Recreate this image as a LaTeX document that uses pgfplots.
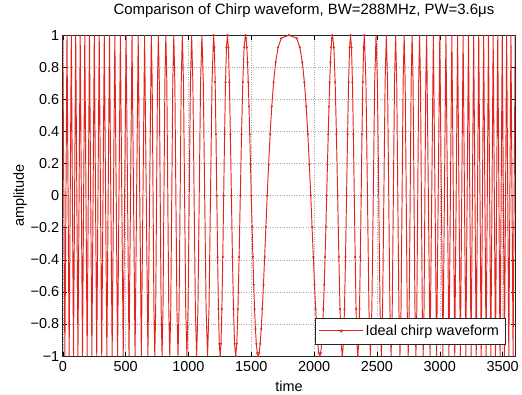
\documentclass[border=0pt]{standalone}
\usepackage{fontspec}
\setmainfont{Liberation Sans}
\usepackage{pgfplots}
\usepackage{pgfplotstable}
\pgfplotsset{compat=1.18}
\definecolor{chirpred}{RGB}{228,36,30}

% offset from pulse centre (time = 1800 -/+ offset), amplitude
\pgfplotstableread{
offset amp
0 1
61.24 0.9808
86.60 0.9239
106.07 0.8315
122.47 0.7071
136.93 0.5556
150.00 0.3827
162.02 0.1951
173.21 0
183.71 -0.1951
193.65 -0.3827
203.10 -0.5556
212.13 -0.7071
220.79 -0.8315
229.13 -0.9239
237.17 -0.9808
244.95 -1
252.49 -0.9808
259.81 -0.9239
266.93 -0.8315
273.86 -0.7071
280.62 -0.5556
287.23 -0.3827
293.68 -0.1951
300.00 0
306.19 0.1951
312.25 0.3827
318.20 0.5556
324.04 0.7071
329.77 0.8315
335.41 0.9239
340.95 0.9808
346.41 1
357.07 0.9239
367.42 0.7071
377.49 0.3827
387.30 0
396.86 -0.3827
406.20 -0.7071
415.33 -0.9239
424.26 -1
433.01 -0.9239
441.59 -0.7071
450.00 -0.3827
458.26 0
466.37 0.3827
474.34 0.7071
482.18 0.9239
489.90 1
497.49 0.9239
504.98 0.7071
512.35 0.3827
519.62 0
526.78 -0.3827
533.85 -0.7071
540.83 -0.9239
547.72 -1
554.52 -0.9239
561.25 -0.7071
567.89 -0.3827
574.46 0
580.95 0.3827
587.37 0.7071
593.71 0.9239
600.00 1
612.37 0.7071
624.50 0
636.40 -0.7071
648.07 -1
659.55 -0.7071
670.82 0
681.91 0.7071
692.82 1
703.56 0.7071
714.14 0
724.57 -0.7071
734.85 -1
744.98 -0.7071
754.98 0
764.85 0.7071
774.60 1
784.22 0.7071
793.73 0
803.12 -0.7071
812.40 -1
821.58 -0.7071
830.66 0
839.64 0.7071
848.53 1
857.32 0.7071
866.03 0
874.64 -0.7071
883.18 -1
891.63 -0.7071
900.00 0
908.30 0.7071
916.52 1
924.66 0.7071
932.74 0
940.74 -0.7071
948.68 -1
956.56 -0.7071
964.37 0
972.11 0.7071
979.80 1
987.42 0.7071
994.99 0
1002.50 -0.7071
1009.95 -1
1017.35 -0.7071
1024.70 0
1031.99 0.7071
1039.23 1
1046.42 0.7071
1053.57 0
1060.66 -0.7071
1067.71 -1
1074.71 -0.7071
1081.67 0
1088.58 0.7071
1095.45 1
1109.05 0
1122.50 -1
1135.78 0
1148.91 1
1161.90 0
1174.73 -1
1187.43 0
1200.00 1
1212.44 0
1224.74 -1
1236.93 0
1249.00 1
1260.95 0
1272.79 -1
1284.52 0
1296.15 1
1307.67 0
1319.09 -1
1330.41 0
1341.64 1
1352.77 0
1363.82 -1
1374.77 0
1385.64 1
1396.42 0
1407.13 -1
1417.75 0
1428.29 1
1438.75 0
1449.14 -1
1459.45 0
1469.69 1
1479.86 0
1489.97 -1
1500.00 0
1509.97 1
1519.87 0
1529.71 -1
1539.48 0
1549.19 1
1558.85 0
1568.44 -1
1577.97 0
1587.45 1
1596.87 0
1606.24 -1
1615.55 0
1624.81 1
1634.01 0
1643.17 -1
1652.27 0
1661.32 1
1670.33 0
1679.29 -1
1688.19 0
1697.06 1
1705.87 0
1714.64 -1
1723.37 0
1732.05 1
1740.69 0
1749.29 -1
1757.84 0
1766.35 1
1774.82 0
1783.26 -1
1791.65 0
1800.00 1
}\chirp

\begin{document}
\begin{tikzpicture}[font=\fontsize{14.5bp}{17bp}\selectfont]
\begin{axis}[
  at={(0,0)}, anchor=south west,
  scale only axis, width=454bp, height=322bp,
  xmin=0, xmax=3600, ymin=-1, ymax=1,
  xtick={0,500,1000,1500,2000,2500,3000,3500},
  xticklabels={0,500,1000,1500,2000,2500,3000,3500},
  ytick={-1,-0.8,-0.6,-0.4,-0.2,0,0.2,0.4,0.6,0.8,1},
  yticklabels={−1,−0.8,−0.6,−0.4,−0.2,0,0.2,0.4,0.6,0.8,1},
  tick align=inside, major tick length=4.5bp,
  tick style={black, line width=0.5bp},
  axis line style={black!85, line width=0.6bp},
  grid=major, grid style={dotted, black!35, line width=0.5bp},
  title={Comparison of Chirp waveform, BW=288MHz, PW=3.6μs},
  title style={at={(axis description cs:0.533,1.059)}, anchor=center, font=\fontsize{15bp}{17bp}\selectfont},
  xlabel={time},
  xlabel style={at={(axis description cs:0.5,-0.093)}, anchor=center},
  ylabel={amplitude},
  ylabel style={at={(axis description cs:-0.094,0.5)}, anchor=center},
  xticklabel style={yshift=-2bp},
  legend style={at={(0.978,0.037)}, anchor=south east, draw=black!85, line width=0.6bp,
    fill=white, inner xsep=4bp, inner ysep=5bp, cells={anchor=west}},
  legend image code/.code={\draw[#1] (0bp,0bp) -- (44bp,0bp);
    \fill[chirpred] (22bp,0bp) circle (1bp);},
]
\addplot[chirpred, line width=0.95bp]
  table[x expr=1800-\thisrow{offset}, y=amp] {\chirp};
\addlegendentry{Ideal chirp waveform}
\addplot[chirpred, line width=0.95bp, forget plot]
  table[x expr=1800+\thisrow{offset}, y=amp] {\chirp};
\addplot[chirpred, only marks, mark=*, mark size=0.85bp, forget plot,
  skip coords between index={65}{400}]
  table[x expr=1800-\thisrow{offset}, y=amp] {\chirp};
\addplot[chirpred, only marks, mark=*, mark size=0.85bp, forget plot,
  skip coords between index={65}{400}]
  table[x expr=1800+\thisrow{offset}, y=amp] {\chirp};
\end{axis}
\path (-63bp,-39bp) rectangle (459bp,355bp);
\end{tikzpicture}
\end{document}
